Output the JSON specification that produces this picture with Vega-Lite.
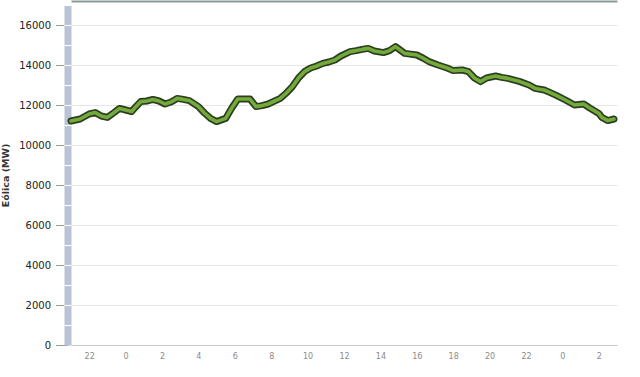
{
  "$schema": "https://vega.github.io/schema/vega-lite/v6.json",
  "autosize": {"type": "none"},
  "width": 546,
  "height": 340,
  "padding": {"left": 71, "top": 5, "right": 23, "bottom": 32},
  "background": "white",
  "config": {"view": {"stroke": null}},
  "data": {"values": [
    {"time": "2012-03-10T21:00:00", "mw": 11200},
    {"time": "2012-03-10T21:30:00", "mw": 11300},
    {"time": "2012-03-10T22:00:00", "mw": 11550},
    {"time": "2012-03-10T22:20:00", "mw": 11620},
    {"time": "2012-03-10T22:40:00", "mw": 11450},
    {"time": "2012-03-10T23:00:00", "mw": 11380},
    {"time": "2012-03-10T23:20:00", "mw": 11600},
    {"time": "2012-03-10T23:40:00", "mw": 11830},
    {"time": "2012-03-11T00:00:00", "mw": 11750},
    {"time": "2012-03-11T00:20:00", "mw": 11670},
    {"time": "2012-03-11T00:30:00", "mw": 11850},
    {"time": "2012-03-11T00:50:00", "mw": 12170},
    {"time": "2012-03-11T01:10:00", "mw": 12200},
    {"time": "2012-03-11T01:30:00", "mw": 12280},
    {"time": "2012-03-11T01:50:00", "mw": 12200},
    {"time": "2012-03-11T02:10:00", "mw": 12050},
    {"time": "2012-03-11T02:30:00", "mw": 12150},
    {"time": "2012-03-11T02:50:00", "mw": 12330},
    {"time": "2012-03-11T03:10:00", "mw": 12280},
    {"time": "2012-03-11T03:30:00", "mw": 12220},
    {"time": "2012-03-11T04:00:00", "mw": 11920},
    {"time": "2012-03-11T04:20:00", "mw": 11600},
    {"time": "2012-03-11T04:40:00", "mw": 11330},
    {"time": "2012-03-11T05:00:00", "mw": 11170},
    {"time": "2012-03-11T05:30:00", "mw": 11330},
    {"time": "2012-03-11T05:50:00", "mw": 11850},
    {"time": "2012-03-11T06:10:00", "mw": 12300},
    {"time": "2012-03-11T06:50:00", "mw": 12300},
    {"time": "2012-03-11T07:10:00", "mw": 11920},
    {"time": "2012-03-11T07:30:00", "mw": 11970},
    {"time": "2012-03-11T07:50:00", "mw": 12050},
    {"time": "2012-03-11T08:30:00", "mw": 12330},
    {"time": "2012-03-11T08:50:00", "mw": 12600},
    {"time": "2012-03-11T09:10:00", "mw": 12920},
    {"time": "2012-03-11T09:30:00", "mw": 13350},
    {"time": "2012-03-11T09:50:00", "mw": 13670},
    {"time": "2012-03-11T10:10:00", "mw": 13850},
    {"time": "2012-03-11T10:30:00", "mw": 13950},
    {"time": "2012-03-11T10:50:00", "mw": 14080},
    {"time": "2012-03-11T11:10:00", "mw": 14150},
    {"time": "2012-03-11T11:30:00", "mw": 14250},
    {"time": "2012-03-11T11:50:00", "mw": 14450},
    {"time": "2012-03-11T12:20:00", "mw": 14670},
    {"time": "2012-03-11T12:40:00", "mw": 14720},
    {"time": "2012-03-11T13:00:00", "mw": 14780},
    {"time": "2012-03-11T13:20:00", "mw": 14830},
    {"time": "2012-03-11T13:40:00", "mw": 14700},
    {"time": "2012-03-11T14:10:00", "mw": 14620},
    {"time": "2012-03-11T14:30:00", "mw": 14720},
    {"time": "2012-03-11T14:50:00", "mw": 14920},
    {"time": "2012-03-11T15:20:00", "mw": 14580},
    {"time": "2012-03-11T16:00:00", "mw": 14500},
    {"time": "2012-03-11T16:20:00", "mw": 14350},
    {"time": "2012-03-11T16:40:00", "mw": 14170},
    {"time": "2012-03-11T17:10:00", "mw": 14000},
    {"time": "2012-03-11T17:40:00", "mw": 13850},
    {"time": "2012-03-11T18:00:00", "mw": 13720},
    {"time": "2012-03-11T18:30:00", "mw": 13750},
    {"time": "2012-03-11T18:50:00", "mw": 13670},
    {"time": "2012-03-11T19:10:00", "mw": 13350},
    {"time": "2012-03-11T19:30:00", "mw": 13170},
    {"time": "2012-03-11T19:50:00", "mw": 13350},
    {"time": "2012-03-11T20:20:00", "mw": 13450},
    {"time": "2012-03-11T20:40:00", "mw": 13380},
    {"time": "2012-03-11T21:00:00", "mw": 13330},
    {"time": "2012-03-11T21:40:00", "mw": 13170},
    {"time": "2012-03-11T22:10:00", "mw": 13000},
    {"time": "2012-03-11T22:30:00", "mw": 12830},
    {"time": "2012-03-11T23:00:00", "mw": 12750},
    {"time": "2012-03-11T23:20:00", "mw": 12620},
    {"time": "2012-03-11T23:40:00", "mw": 12480},
    {"time": "2012-03-12T00:10:00", "mw": 12250},
    {"time": "2012-03-12T00:40:00", "mw": 12000},
    {"time": "2012-03-12T01:10:00", "mw": 12050},
    {"time": "2012-03-12T01:30:00", "mw": 11850},
    {"time": "2012-03-12T02:00:00", "mw": 11580},
    {"time": "2012-03-12T02:10:00", "mw": 11380},
    {"time": "2012-03-12T02:30:00", "mw": 11220},
    {"time": "2012-03-12T02:50:00", "mw": 11300}
  ]},
  "resolve": {"axis": {"x": "independent", "y": "independent"}},
  "layer": [
    {
      "mark": {"type": "line", "color": "#2e3d20", "strokeWidth": 7, "strokeJoin": "round", "strokeCap": "round"},
      "encoding": {
        "x": {
          "field": "time", "type": "temporal",
          "scale": {"domain": [
            {"year": 2012, "month": 3, "date": 10, "hours": 21},
            {"year": 2012, "month": 3, "date": 12, "hours": 3}
          ]},
          "axis": {
            "orient": "bottom", "title": null, "format": "%-H",
            "values": [
              {"year": 2012, "month": 3, "date": 10, "hours": 22},
              {"year": 2012, "month": 3, "date": 11, "hours": 0},
              {"year": 2012, "month": 3, "date": 11, "hours": 2},
              {"year": 2012, "month": 3, "date": 11, "hours": 4},
              {"year": 2012, "month": 3, "date": 11, "hours": 6},
              {"year": 2012, "month": 3, "date": 11, "hours": 8},
              {"year": 2012, "month": 3, "date": 11, "hours": 10},
              {"year": 2012, "month": 3, "date": 11, "hours": 12},
              {"year": 2012, "month": 3, "date": 11, "hours": 14},
              {"year": 2012, "month": 3, "date": 11, "hours": 16},
              {"year": 2012, "month": 3, "date": 11, "hours": 18},
              {"year": 2012, "month": 3, "date": 11, "hours": 20},
              {"year": 2012, "month": 3, "date": 11, "hours": 22},
              {"year": 2012, "month": 3, "date": 12, "hours": 0},
              {"year": 2012, "month": 3, "date": 12, "hours": 2}
            ],
            "grid": false, "ticks": false, "labelOverlap": false,
            "domainColor": "#c8c8c8", "domainWidth": 1,
            "labelFont": "DejaVu Sans", "labelFontSize": 8, "labelColor": "#8a8a8a",
            "labelPadding": 7
          }
        },
        "y": {
          "field": "mw", "type": "quantitative",
          "scale": {"domain": [0, 17000], "nice": false},
          "axis": {
            "orient": "left", "title": "Eólica (MW)", "format": "d",
            "values": [0, 2000, 4000, 6000, 8000, 10000, 12000, 14000, 16000],
            "offset": 3.5,
            "domainColor": "#b8c3d5", "domainWidth": 7,
            "tickColor": "#999999", "tickSize": 12, "tickWidth": 1,
            "grid": true, "gridColor": "#e6e6e6", "gridWidth": 1,
            "labelFont": "DejaVu Sans", "labelFontSize": 10, "labelColor": "#222222",
            "labelPadding": 5,
            "titleFont": "DejaVu Sans", "titleFontSize": 9.5, "titleFontWeight": "bold",
            "titleColor": "#333333", "titlePadding": 8
          }
        }
      }
    },
    {
      "mark": {"type": "line", "color": "#72aa3c", "strokeWidth": 3.6, "strokeJoin": "round", "strokeCap": "round"},
      "encoding": {
        "x": {
          "field": "time", "type": "temporal",
          "axis": {
            "orient": "top", "title": null, "labels": false, "ticks": false, "grid": false,
            "domainColor": "#8a9a99", "domainWidth": 2, "offset": 4
          }
        },
        "y": {
          "field": "mw", "type": "quantitative",
          "axis": {
            "orient": "left", "title": null, "labels": false, "domain": false, "grid": false,
            "values": [1000, 2000, 3000, 4000, 5000, 6000, 7000, 8000, 9000, 10000, 11000, 12000, 13000, 14000, 15000, 16000, 17000],
            "offset": 0, "tickColor": "#ffffff", "tickSize": 7, "tickWidth": 1.2, "zindex": 1
          }
        }
      }
    }
  ]
}
